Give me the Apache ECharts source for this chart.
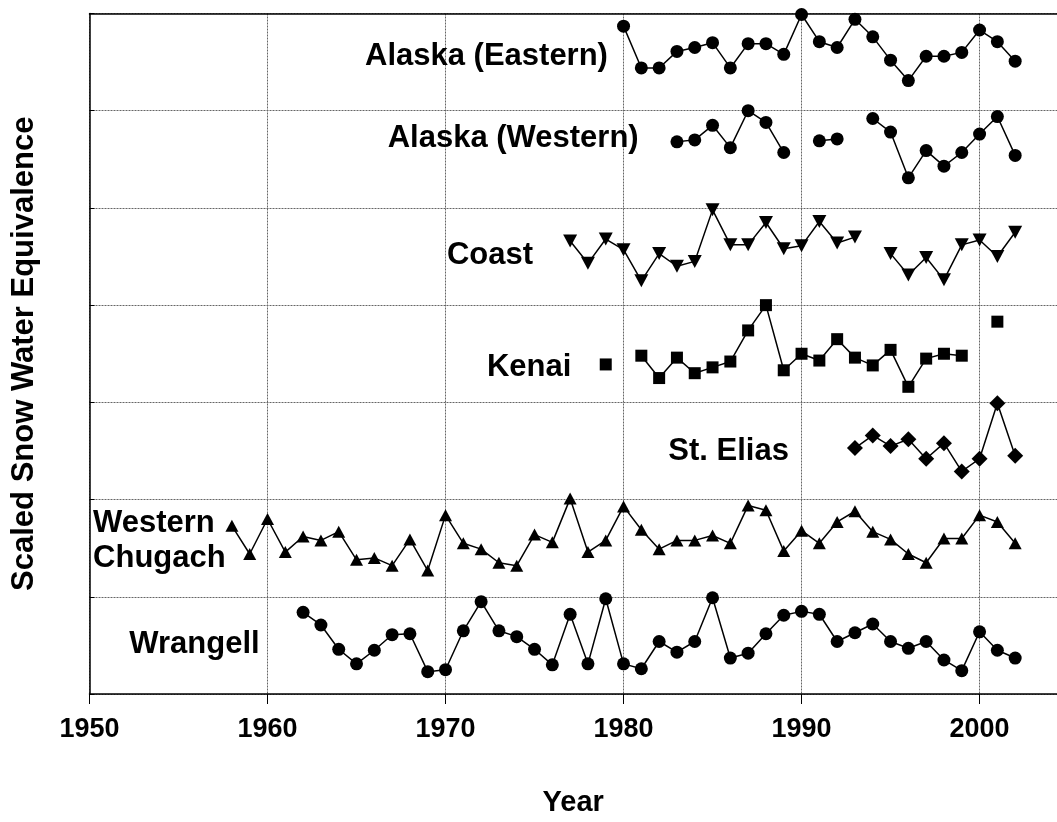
<!DOCTYPE html>
<html>
<head>
<meta charset="utf-8">
<script src="https://cdn.jsdelivr.net/npm/echarts@6/dist/echarts.min.js"></script>
<style>
html,body{margin:0;padding:0;background:#fff;}
#chart{width:1057px;height:822px;}
</style>
</head>
<body>
<div id="chart"></div>
<script>
// ---- Data ----
const tickYears = [1950, 1960, 1970, 1980, 1990, 2000];

const easternStart = 1980;
const easternVals = [6.87, 6.44, 6.44, 6.61, 6.65, 6.70, 6.44, 6.69, 6.69, 6.58, 6.99, 6.71, 6.65, 6.94, 6.76, 6.52, 6.31, 6.56, 6.56, 6.60, 6.83, 6.71, 6.51];

const westernAkStart = 1983;
const westernAkVals = [5.68, 5.70, 5.85, 5.62, 6.00, 5.88, 5.57, null, 5.69, 5.71, null, 5.92, 5.78, 5.31, 5.59, 5.43, 5.57, 5.76, 5.94, 5.54];

const coastStart = 1977;
const coastVals = [4.66, 4.43, 4.68, 4.57, 4.25, 4.53, 4.40, 4.45, 4.98, 4.62, 4.62, 4.85, 4.58, 4.61, 4.86, 4.64, 4.70, null, 4.53, 4.31, 4.49, 4.26, 4.62, 4.67, 4.50, 4.75];

const kenaiStart = 1979;
const kenaiVals = [3.39, null, 3.48, 3.25, 3.46, 3.30, 3.36, 3.42, 3.74, 4.00, 3.33, 3.50, 3.43, 3.65, 3.46, 3.38, 3.54, 3.16, 3.45, 3.50, 3.48, null, 3.83];

const eliasStart = 1993;
const eliasVals = [2.53, 2.66, 2.55, 2.62, 2.42, 2.58, 2.29, 2.42, 2.99, 2.45];

const chugachStart = 1958;
const chugachVals = [1.73, 1.44, 1.80, 1.46, 1.62, 1.58, 1.67, 1.38, 1.40, 1.32, 1.59, 1.27,
  1.84, 1.55, 1.49, 1.35, 1.32, 1.64, 1.56, 2.01, 1.46, 1.58,
  1.93, 1.69, 1.49, 1.58, 1.58, 1.63, 1.55, 1.94, 1.89, 1.47,
  1.68, 1.55, 1.77, 1.88, 1.67, 1.59, 1.44, 1.35, 1.60, 1.60, 1.84, 1.77, 1.55];

const wrangellStart = 1962;
const wrangellVals = [0.84, 0.71, 0.46, 0.31, 0.45, 0.61, 0.62, 0.23,
  0.25, 0.65, 0.95, 0.65, 0.59, 0.46, 0.30, 0.82, 0.31, 0.98,
  0.31, 0.26, 0.54, 0.43, 0.54, 0.99, 0.37, 0.42, 0.62, 0.81,
  0.85, 0.82, 0.54, 0.63, 0.72, 0.54, 0.47, 0.54, 0.35, 0.24, 0.64, 0.45, 0.37];

// region label texts and their anchor in data units (year, scaled value)
const regionNames = ['Alaska (Eastern)', 'Alaska (Western)', 'Coast', 'Kenai', 'St. Elias', 'Western\nChugach', 'Wrangell'];
const regionLabelYear = [1972.3, 1973.8, 1972.5, 1974.7, 1985.9, 1950.2, 1955.9];
const regionLabelValue = [6.56, 5.71, 4.51, 3.36, 2.50, 1.57, 0.51];

// ---- Build ----
function pairs(start, vals) {
  return vals.map((v, i) => [start + i, v]);
}
const FONT = '"Liberation Sans", Arial, sans-serif';

function lineSeries(name, start, vals, symbol, size, rotate) {
  return {
    name: name,
    type: 'line',
    data: pairs(start, vals),
    connectNulls: false,
    symbol: symbol,
    symbolSize: size,
    symbolRotate: rotate || 0,
    showAllSymbol: true,
    lineStyle: { color: '#000', width: 1.5 },
    itemStyle: { color: '#000', borderWidth: 0, opacity: 1 },
    emphasis: { disabled: true },
    silent: true,
    animation: false,
    clip: false
  };
}

const labelData = regionNames.map((t, i) => {
  const item = { value: [regionLabelYear[i], regionLabelValue[i]], name: t };
  if (t.indexOf('\n') >= 0) item.label = { align: 'left' };
  return item;
});

const gridLine = { show: true, lineStyle: { color: '#666', width: 1, type: [2, 1] } };

const chart = echarts.init(document.getElementById('chart'), null, { renderer: 'canvas' });
chart.setOption({
  backgroundColor: '#fff',
  animation: false,
  grid: { left: 89.5, top: 13.5, bottom: 126, right: 0, show: false, containLabel: false },
  xAxis: [{
    type: 'value',
    min: 1950, max: 2004.35, interval: 5,
    name: 'Year',
    nameLocation: 'middle',
    nameGap: 94,
    nameTextStyle: { fontFamily: FONT, fontWeight: 'bold', fontSize: 29, color: '#000' },
    axisLine: { show: true, lineStyle: { color: '#000', width: 1.5 } },
    axisTick: { show: true, customValues: tickYears, length: 10, inside: false, lineStyle: { color: '#000', width: 1 } },
    axisLabel: { show: true, customValues: tickYears, margin: 22, fontFamily: FONT, fontWeight: 'bold', fontSize: 27, color: '#000', formatter: v => String(v) },
    splitLine: gridLine
  }, {
    type: 'value',
    position: 'top',
    min: 1950, max: 2004.35, interval: 5,
    axisLine: { show: true, onZero: false, lineStyle: { color: '#000', width: 1.5 } },
    axisTick: { show: false },
    axisLabel: { show: false },
    splitLine: { show: false }
  }],
  yAxis: {
    type: 'value',
    min: 0, max: 7, interval: 1,
    name: 'Scaled Snow Water Equivalence',
    nameLocation: 'middle',
    nameGap: 50,
    nameTextStyle: { fontFamily: FONT, fontWeight: 'bold', fontSize: 31, color: '#000' },
    axisLine: { show: true, lineStyle: { color: '#000', width: 1.5 } },
    axisTick: { show: true, inside: true, length: 5, lineStyle: { color: '#000' } },
    axisLabel: { show: false },
    splitLine: gridLine
  },
  series: [
    lineSeries('Alaska (Eastern)', easternStart, easternVals, 'circle', 13),
    lineSeries('Alaska (Western)', westernAkStart, westernAkVals, 'circle', 13),
    lineSeries('Coast', coastStart, coastVals, 'triangle', [14, 13], 180),
    lineSeries('Kenai', kenaiStart, kenaiVals, 'rect', 12),
    lineSeries('St. Elias', eliasStart, eliasVals, 'diamond', [16, 16]),
    lineSeries('Western Chugach', chugachStart, chugachVals, 'triangle', [13, 12]),
    lineSeries('Wrangell', wrangellStart, wrangellVals, 'circle', 13),
    {
      name: 'labels',
      type: 'scatter',
      data: labelData,
      symbolSize: 0,
      silent: true,
      animation: false,
      clip: false,
      itemStyle: { color: '#000', opacity: 1 },
      label: {
        show: true,
        position: [0, 0],
        align: 'center',
        verticalAlign: 'middle',
        formatter: p => p.name,
        fontFamily: FONT,
        fontWeight: 'bold',
        fontSize: 31,
        lineHeight: 35,
        color: '#000',
        opacity: 1,
        textBorderWidth: 0
      },
      emphasis: { disabled: true }
    }
  ]
});
</script>
</body>
</html>
